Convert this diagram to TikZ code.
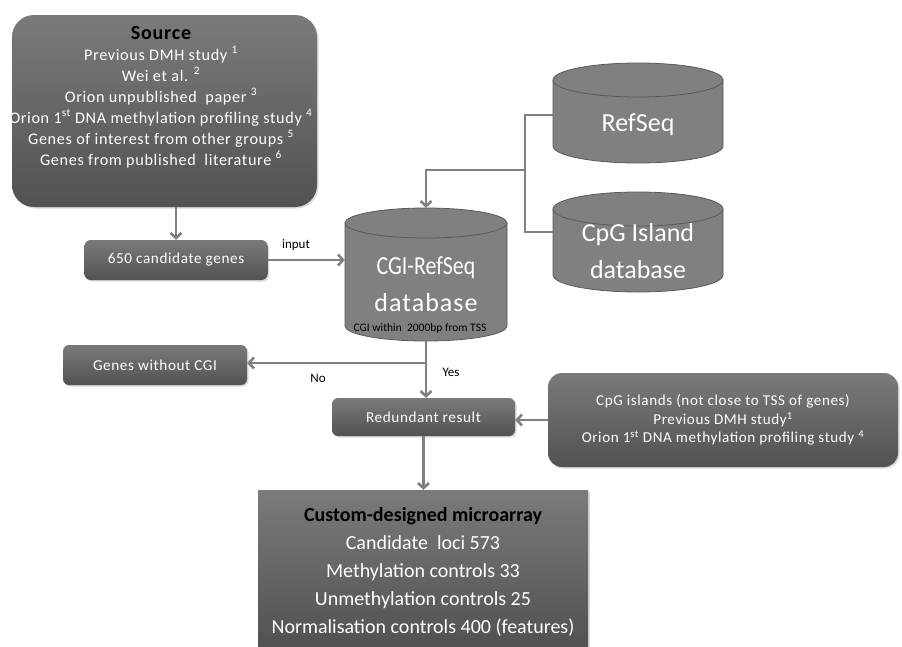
\documentclass[tikz,border=0pt]{standalone}
\usepackage{fontspec}
\setmainfont{Carlito}
\newfontfamily\spaced[LetterSpace=4]{Carlito}
\usetikzlibrary{positioning,shadows,arrows.meta}

\tikzset{
  greybox/.style={draw=none, rounded corners=6pt, top color=black!52, bottom color=black!68, text=white, align=center, drop shadow={shadow xshift=1.5pt, shadow yshift=-1.5pt, opacity=0.3}},
  boxtext/.style={font=\spaced\fontsize{15.2}{18}\selectfont},
  cylfill/.style={fill=black!50},
  cyledge/.style={draw=black!65, line width=0.8pt},
  dbtext/.style={text=white, align=center, font=\fontsize{26}{37}\selectfont},
  flow/.style={draw=black!50, line width=2.6pt, -{Straight Barb[length=5pt,width=11pt]}},
  link/.style={draw=black!50, line width=2.6pt},
  note/.style={text=black, font=\fontsize{13}{15}\selectfont}
}

\begin{document}
\begin{tikzpicture}[x=1pt,y=-1pt]
\useasboundingbox (0,0) rectangle (902,646);

% gene sources
\node[greybox, rounded corners=22pt, minimum width=305pt, minimum height=192pt] (src) at (164.5,111) {};
\node[text=white, align=center, font=\spaced\fontsize{16.2}{21}\selectfont] (srctxt) at (161,97) {%
  {\color{black}\fontsize{20}{21}\selectfont\bfseries Source}\\
  Previous DMH study \textsuperscript{1}\\
  Wei et al. \textsuperscript{2}\\
  Orion unpublished \ paper \textsuperscript{3}\\
  Orion 1\textsuperscript{st} DNA methylation profiling study \textsuperscript{4}\\
  Genes of interest from other groups \textsuperscript{5}\\
  Genes from published \ literature \textsuperscript{6}};

\node[greybox, boxtext, minimum width=183pt, minimum height=40pt] (cand) at (176,260) {650 candidate genes};

% CGI-RefSeq cylinder
\node[minimum width=162pt, minimum height=133pt] (cgidb) at (426,274.5) {};
\fill[cylfill] (345,223) -- (345,326) arc[start angle=180, end angle=0, x radius=81, y radius=15] -- (507,223) -- cycle;
\draw[cyledge] (345,223) -- (345,326) arc[start angle=180, end angle=0, x radius=81, y radius=15] -- (507,223);
\filldraw[cylfill, cyledge] (426,223) ellipse[x radius=81, y radius=15];
\node[dbtext] (cgitxt) at (426,284) {\scalebox{0.84}[1]{CGI-RefSeq}\\{\spaced database}};
\node[note, font=\fontsize{11.5}{13}\selectfont] (tss) at (420,328) {CGI within \ 2000bp from TSS};

% RefSeq cylinder
\node[minimum width=170pt, minimum height=100pt] (refseq) at (638,113) {};
\fill[cylfill] (553,80) -- (553,146) arc[start angle=180, end angle=0, x radius=85, y radius=17] -- (723,80) -- cycle;
\draw[cyledge] (553,80) -- (553,146) arc[start angle=180, end angle=0, x radius=85, y radius=17] -- (723,80);
\filldraw[cylfill, cyledge] (638,80) ellipse[x radius=85, y radius=17];
\node[dbtext] (reftxt) at (638,125) {RefSeq};

% CpG island cylinder
\node[minimum width=170pt, minimum height=100pt] (cpgdb) at (638,242) {};
\fill[cylfill] (553,209) -- (553,275) arc[start angle=180, end angle=0, x radius=85, y radius=17] -- (723,209) -- cycle;
\draw[cyledge] (553,209) -- (553,275) arc[start angle=180, end angle=0, x radius=85, y radius=17] -- (723,209);
\filldraw[cylfill, cyledge] (638,209) ellipse[x radius=85, y radius=17];
\node[dbtext] (cpgtxt) at (638,251) {CpG Island\\database};

% results
\node[greybox, boxtext, minimum width=184pt, minimum height=40pt] (nocgi) at (155,365) {Genes without CGI};
\node[greybox, boxtext, minimum width=183pt, minimum height=38pt] (redund) at (423.5,417) {Redundant result};
\node[greybox, boxtext, rounded corners=14pt, minimum width=350pt, minimum height=94pt, font=\spaced\fontsize{15.1}{18.5}\selectfont] (other) at (723,420) {%
  CpG islands (not close to TSS of genes)\\
  Previous DMH study\textsuperscript{1}\\
  Orion 1\textsuperscript{st} DNA methylation profiling study \textsuperscript{4}};

\node[greybox, rounded corners=0pt, minimum width=330pt, minimum height=156pt] (array) at (423,568) {};
\node[text=white, align=center, font=\fontsize{20}{28}\selectfont] (arraytxt) at (423,572) {%
  {\color{black}\bfseries Custom-designed microarray}\\
  Candidate \ loci 573\\
  Methylation controls 33\\
  Unmethylation controls 25\\
  Normalisation controls 400 (features)};

% connectors
\draw[flow] (cand.north |- src.south) -- (cand.north);
\draw[flow] (cand.east) -- (cand.east -| cgidb.west);
\node[note] (inlbl) at (296,245) {input};

\coordinate (rj) at (525,170);
\draw[link] (553,115) -- (525,115) -- (525,232) -- (553,232);
\draw[flow] (rj) -| (cgidb.north);

\coordinate (yn) at (426,363);
\draw[flow] (cgidb.south) -- (cgidb.south |- redund.north);
\draw[flow] (yn) -- (yn -| nocgi.east);
\node[note] (nolbl) at (318,378) {No};
\node[note] (yeslbl) at (451,372) {Yes};

\draw[flow] (other.west) -- (other.west -| redund.east);
\draw[flow] (redund.south) -- (redund.south |- array.north);
\end{tikzpicture}
\end{document}
